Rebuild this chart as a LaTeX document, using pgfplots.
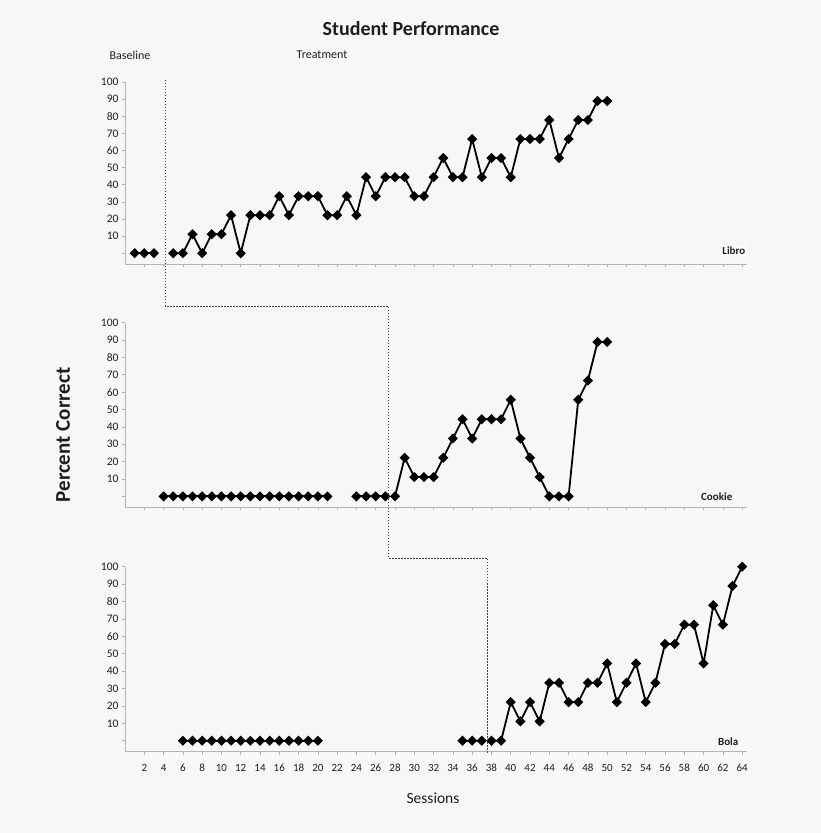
\documentclass[border=0pt]{standalone}
\usepackage{pgfplots}
\pgfplotsset{compat=1.18}
\usepackage{fontspec}
\setmainfont{Carlito}
\definecolor{bg}{RGB}{247,247,247}
\definecolor{axisgray}{RGB}{185,180,180}
\definecolor{txt}{RGB}{30,30,30}
\pgfplotsset{
  panel/.style={
    scale only axis, width=622pt,
    xmin=0, xmax=64.5, ymin=-6.3, ymax=100,
    axis x line=bottom, axis y line=left,
    axis line style={axisgray, line width=0.8pt, -},
    ytick={0,10,20,30,40,50,60,70,80,90,100},
    yticklabels={{},10,20,30,40,50,60,70,80,90,100},
    xtick={2,4,...,64},
    tick align=outside, major tick length=3pt,
    tick style={axisgray, line width=0.6pt},
    /pgf/number format/assume math mode=true,
    yticklabel style={font=\fontsize{11.5}{12}\selectfont, text=txt},
    xticklabel style={font=\fontsize{11}{12}\selectfont, text=txt, yshift=-6pt},
    clip=false,
  },
  ser/.style={black, line width=1.8pt, mark=square*, mark size=2.7pt, mark options={solid, fill=black, rotate=45}},
}
\begin{document}
\begin{tikzpicture}
\path[fill=bg] (0,0) rectangle (821pt,833pt);

% ---------- Libro ----------
\begin{axis}[panel, at={(125pt,569pt)}, anchor=south west, height=182pt, xticklabels={}]
\addplot[ser] coordinates {(1,0) (2,0) (3,0)};
\addplot[ser] coordinates {
(5,0) (6,0) (7,11.1) (8,0) (9,11.1) (10,11.1) (11,22.2) (12,0) (13,22.2) (14,22.2)
(15,22.2) (16,33.3) (17,22.2) (18,33.3) (19,33.3) (20,33.3) (21,22.2) (22,22.2) (23,33.3) (24,22.2)
(25,44.4) (26,33.3) (27,44.4) (28,44.4) (29,44.4) (30,33.3) (31,33.3) (32,44.4) (33,55.6) (34,44.4)
(35,44.4) (36,66.7) (37,44.4) (38,55.6) (39,55.6) (40,44.4) (41,66.7) (42,66.7) (43,66.7) (44,77.8)
(45,55.6) (46,66.7) (47,77.8) (48,77.8) (49,88.9) (50,88.9)};
\end{axis}

% ---------- Cookie ----------
\begin{axis}[panel, at={(125pt,325.7pt)}, anchor=south west, height=184.6pt, xticklabels={}]
\addplot[ser] coordinates {
(4,0) (5,0) (6,0) (7,0) (8,0) (9,0) (10,0) (11,0) (12,0) (13,0) (14,0) (15,0) (16,0) (17,0)
(18,0) (19,0) (20,0) (21,0)};
\addplot[ser] coordinates {(24,0) (25,0) (26,0) (27,0)};
\addplot[ser] coordinates {
(28,0) (29,22.2) (30,11.1) (31,11.1) (32,11.1) (33,22.2) (34,33.3) (35,44.4) (36,33.3) (37,44.4)
(38,44.4) (39,44.4) (40,55.6) (41,33.3) (42,22.2) (43,11.1) (44,0) (45,0) (46,0) (47,55.6)
(48,66.7) (49,88.9) (50,88.9)};
\end{axis}

% ---------- Bola ----------
\begin{axis}[panel, at={(125pt,81.3pt)}, anchor=south west, height=185pt]
\addplot[ser] coordinates {
(6,0) (7,0) (8,0) (9,0) (10,0) (11,0) (12,0) (13,0) (14,0) (15,0) (16,0) (17,0) (18,0) (19,0) (20,0)};
\addplot[ser] coordinates {(35,0) (36,0) (37,0)};
\addplot[ser] coordinates {
(38,0) (39,0) (40,22.2) (41,11.1) (42,22.2) (43,11.1) (44,33.3) (45,33.3) (46,22.2) (47,22.2)
(48,33.3) (49,33.3) (50,44.4) (51,22.2) (52,33.3) (53,44.4) (54,22.2) (55,33.3) (56,55.6) (57,55.6)
(58,66.7) (59,66.7) (60,44.4) (61,77.8) (62,66.7) (63,88.9) (64,100)};
\end{axis}

% phase change lines
\draw[black!75, line width=0.7pt, dash pattern=on 1.5pt off 1.5pt]
  (165pt,753pt) -- (165pt,527pt) -- (388pt,527pt) -- (388pt,275pt) -- (487pt,275pt) -- (487pt,79pt);

% texts
\node[font=\bfseries\fontsize{20}{22}\selectfont, text=txt] at (411pt,804pt) {Student Performance};
\node[font=\fontsize{12}{13}\selectfont, text=txt] at (130pt,778pt) {Baseline};
\node[font=\fontsize{12}{13}\selectfont, text=txt] at (322pt,778pt) {Treatment};
\node[font=\bfseries\fontsize{21}{23}\selectfont, text=txt, rotate=90] at (63pt,398pt) {Percent Correct};
\node[font=\fontsize{15.5}{17}\selectfont, text=txt] at (433pt,35pt) {Sessions};
\node[font=\bfseries\fontsize{11}{12}\selectfont, text=txt, anchor=east, fill=white, inner sep=1.5pt] at (747pt,582pt) {Libro};
\node[font=\bfseries\fontsize{11}{12}\selectfont, text=txt, anchor=east, inner sep=1.5pt] at (734pt,336pt) {Cookie};
\node[font=\bfseries\fontsize{11}{12}\selectfont, text=txt, anchor=east, inner sep=1.5pt] at (740pt,91pt) {Bola};
\end{tikzpicture}
\end{document}
